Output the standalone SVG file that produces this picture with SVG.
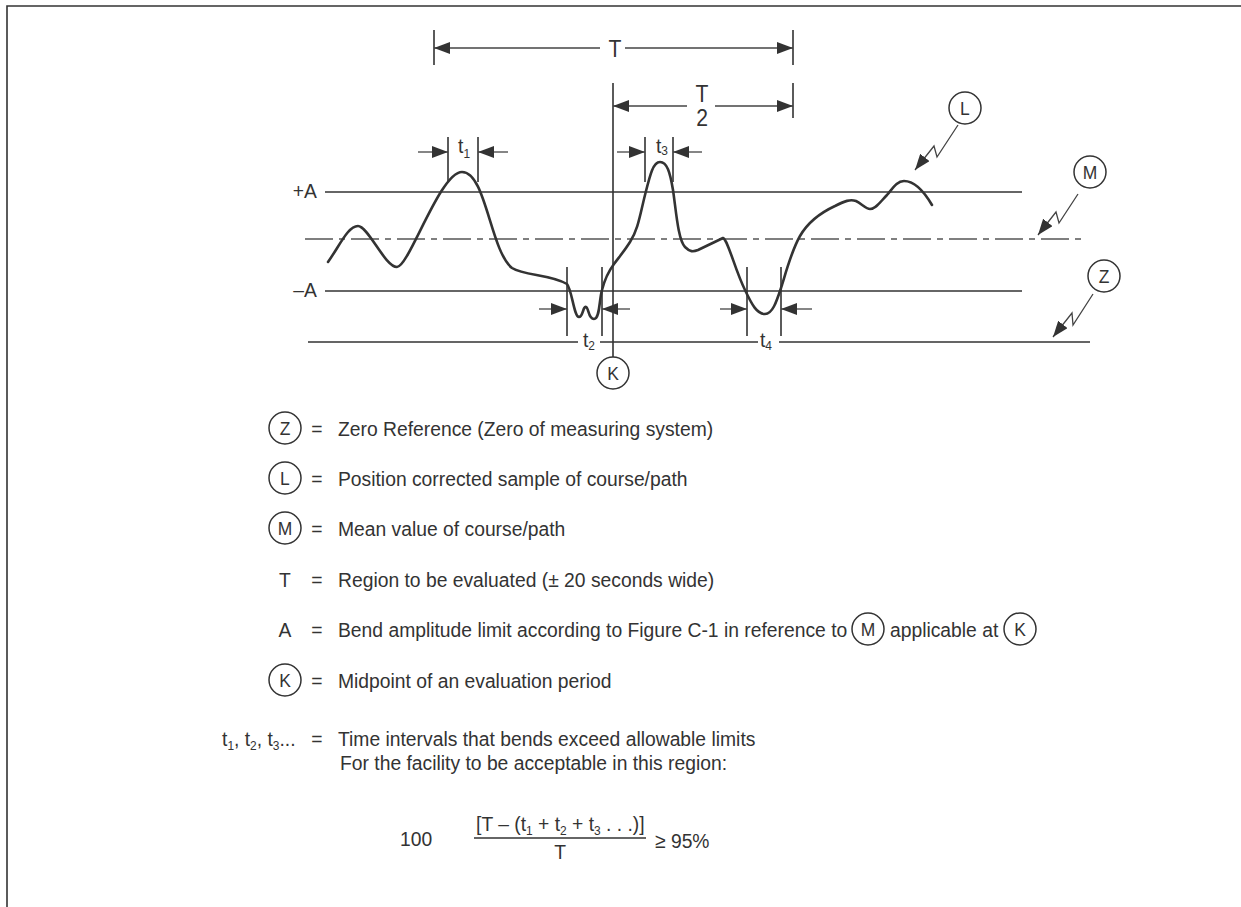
<svg xmlns="http://www.w3.org/2000/svg" width="1241" height="907" viewBox="0 0 1241 907">
<style>
.ln{stroke:#333;stroke-width:1.3;fill:none}
.ar{stroke:#444;stroke-width:1.3;fill:none}
.tk{stroke:#333;stroke-width:1.6;fill:none}
.cv{stroke:#333;stroke-width:2.6;fill:none;stroke-linecap:round;stroke-linejoin:round}
.cir{stroke:#333;stroke-width:1.5;fill:#fff}
.tx{font-family:"Liberation Sans",Arial,sans-serif;fill:#333}
.lg{font-size:21px}
.cl{font-size:19px;text-anchor:middle}
.lb{font-size:21px}
.sb{font-size:13px}
</style>
<defs>
<marker id="ah" viewBox="0 0 16 12" refX="16" refY="6" markerWidth="16" markerHeight="12" markerUnits="userSpaceOnUse" orient="auto-start-reverse"><path d="M0,0 L16,6 L0,12 z" fill="#333"/></marker>
</defs>
<rect width="1241" height="907" fill="#fff"/>
<g id="border"><path d="M7,907 L7,6 L1241,6" stroke="#333" stroke-width="1.6" fill="none"/></g>

<g id="reference-lines">
<line class="ln" x1="325" y1="192" x2="1022" y2="192"/>
<line class="ln" x1="325" y1="291" x2="1022" y2="291"/>
<line x1="305" y1="239" x2="1085" y2="239" stroke="#555" stroke-width="1.3" stroke-dasharray="28 6 6 6"/>
<path class="ln" d="M308,342 H578 M600,342 H758 M779,342 H1090"/>
</g>

<g id="curve"><path class="cv" d="M328,262 C340,245 348,226 358,226 C368,226 385,267 397,267 C409,267 440,172 462,172 C486,172 490,250 512,268 C525,276 550,274 567,284 C572,290 574,317 579,317 C583,317 583,306 586,307 C589,308 588,319 594,319 C600,319 599,300 602,290 C605,278 608,272 614,264 C620,256 625,250 630,242 C638,230 640,215 645,195 C650,175 653,162 660,162 C667,162 670,172 673,190 C676,210 678,240 685,247 C690,252 693,252 698,250 L723,238 C728,240 735,270 745,290 C752,305 757,314 765,314 C773,314 777,300 782,285 C788,265 792,250 800,236 C808,222 820,213 835,206 C845,201 850,199 856,201 C862,204 866,209 870,209 C876,209 880,202 887,195 C893,188 897,181 904,181 C912,181 922,188 932,205"/></g>

<g id="connectors">
<path class="tk" d="M434,30 V65 M793,30 V65 M793,83 V118 M613,83 V357"/>
<line class="ar" x1="600" y1="48" x2="434" y2="48" marker-end="url(#ah)"/>
<line class="ar" x1="625" y1="48" x2="793" y2="48" marker-end="url(#ah)"/>
<line class="ar" x1="687" y1="106" x2="613" y2="106" marker-end="url(#ah)"/>
<line class="ar" x1="715" y1="106" x2="793" y2="106" marker-end="url(#ah)"/>
<path class="tk" d="M448,137 V182 M478,137 V182 M645,137 V182 M673,137 V182 M567,267 V336 M602,267 V336 M747,267 V336 M781,267 V336"/>
<line class="ar" x1="418" y1="152" x2="448" y2="152" marker-end="url(#ah)"/>
<line class="ar" x1="508" y1="152" x2="478" y2="152" marker-end="url(#ah)"/>
<line class="ar" x1="617" y1="152" x2="645" y2="152" marker-end="url(#ah)"/>
<line class="ar" x1="702" y1="152" x2="673" y2="152" marker-end="url(#ah)"/>
<line class="ar" x1="539" y1="309" x2="567" y2="309" marker-end="url(#ah)"/>
<line class="ar" x1="630" y1="309" x2="602" y2="309" marker-end="url(#ah)"/>
<line class="ar" x1="720" y1="309" x2="747" y2="309" marker-end="url(#ah)"/>
<line class="ar" x1="812" y1="309" x2="781" y2="309" marker-end="url(#ah)"/>
<polyline class="ar" points="958,125 937,157 934,146 915,170" marker-end="url(#ah)"/>
<polyline class="ar" points="1078,194 1059,223 1056,212 1038,235" marker-end="url(#ah)"/>
<polyline class="ar" points="1093,294 1073,325 1072,313 1053,337" marker-end="url(#ah)"/>
</g>

<g id="diagram-circles">
<g id="node-K"><circle class="cir" cx="613" cy="373" r="16"/></g>
<g id="node-L"><circle class="cir" cx="965" cy="108" r="16"/></g>
<g id="node-M"><circle class="cir" cx="1090" cy="172" r="16"/></g>
<g id="node-Z"><circle class="cir" cx="1104" cy="276" r="16"/></g>
</g>

<g id="legend-circles">
<circle class="cir" cx="285" cy="428" r="16"/>
<circle class="cir" cx="285" cy="478" r="16"/>
<circle class="cir" cx="285" cy="528" r="16"/>
<circle class="cir" cx="285" cy="680" r="16"/>
<circle class="cir" cx="868" cy="629" r="16"/>
<circle class="cir" cx="1020" cy="629" r="16"/>
</g>

<g id="texts" class="tx" transform="scale(0.919 1)">
<text class="cl" x="667" y="380">K</text>
<text class="cl" x="1050" y="115">L</text>
<text class="cl" x="1186" y="179">M</text>
<text class="cl" x="1201.3" y="283">Z</text>
<text class="lb" x="344.9" y="198" text-anchor="end">+A</text>
<text class="lb" x="344.9" y="297" text-anchor="end">–A</text>
<text x="669.2" y="57" font-size="23" text-anchor="middle">T</text>
<text x="763.9" y="102" font-size="23" text-anchor="middle">T</text>
<text x="763.9" y="126" font-size="23" text-anchor="middle">2</text>
<text class="lb" x="498.4" y="153">t<tspan class="sb" dy="5">1</tspan></text>
<text class="lb" x="713.8" y="153">t<tspan class="sb" dy="2">3</tspan></text>
<text class="lb" x="634.4" y="347">t<tspan class="sb" dy="3">2</tspan></text>
<text class="lb" x="827" y="347">t<tspan class="sb" dy="3">4</tspan></text>

<text class="cl" x="310.1" y="435">Z</text>
<text class="cl" x="310.1" y="485">L</text>
<text class="cl" x="310.1" y="535">M</text>
<text class="cl" x="310.1" y="687">K</text>
<text class="cl" x="944.5" y="636">M</text>
<text class="cl" x="1109.9" y="636">K</text>

<text class="lg" x="344.9" y="436" text-anchor="middle">=</text>
<text class="lg" x="367.8" y="436">Zero Reference (Zero of measuring system)</text>
<text class="lg" x="344.9" y="486" text-anchor="middle">=</text>
<text class="lg" x="367.8" y="486">Position corrected sample of course/path</text>
<text class="lg" x="344.9" y="536" text-anchor="middle">=</text>
<text class="lg" x="367.8" y="536">Mean value of course/path</text>
<text class="lg" x="310.1" y="587" text-anchor="middle">T</text>
<text class="lg" x="344.9" y="587" text-anchor="middle">=</text>
<text class="lg" x="367.8" y="587">Region to be evaluated (± 20 seconds wide)</text>
<text class="lg" x="310.1" y="637" text-anchor="middle">A</text>
<text class="lg" x="344.9" y="637" text-anchor="middle">=</text>
<text class="lg" x="367.8" y="637">Bend amplitude limit according to Figure C-1 in reference to</text>
<text class="lg" x="968.4" y="637">applicable at</text>
<text class="lg" x="344.9" y="688" text-anchor="middle">=</text>
<text class="lg" x="367.8" y="688">Midpoint of an evaluation period</text>
<text class="lg" x="241.6" y="746">t<tspan class="sb" dy="4">1</tspan><tspan dy="-4">, t</tspan><tspan class="sb" dy="4">2</tspan><tspan dy="-4">, t</tspan><tspan class="sb" dy="4">3</tspan><tspan dy="-4">...</tspan></text>
<text class="lg" x="344.9" y="746" text-anchor="middle">=</text>
<text class="lg" x="367.8" y="746">Time intervals that bends exceed allowable limits</text>
<text class="lg" x="370" y="770">For the facility to be acceptable in this region:</text>

<text class="lg" x="435.3" y="846">100</text>
<text class="lg" x="518" y="831">[T – (t<tspan class="sb" dy="4">1</tspan><tspan dy="-4"> + t</tspan><tspan class="sb" dy="4">2</tspan><tspan dy="-4"> + t</tspan><tspan class="sb" dy="4">3</tspan><tspan dy="-4"> . . .)]</tspan></text>
<text class="lg" x="609.4" y="859" text-anchor="middle">T</text>
<text class="lg" x="712.7" y="848">≥ 95%</text>
</g>
<line x1="474" y1="838" x2="646" y2="838" stroke="#333" stroke-width="1.3"/>
</svg>
